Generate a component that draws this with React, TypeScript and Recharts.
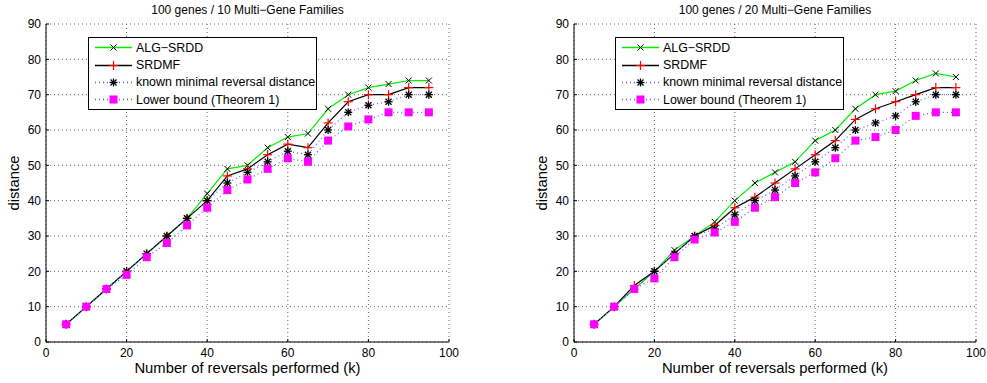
import React from "react";
import { LineChart, Line, XAxis, YAxis, CartesianGrid, Legend, Label } from "recharts";

// reversals performed (k)
const reversals = [5, 10, 15, 20, 25, 30, 35, 40, 45, 50, 55, 60, 65, 70, 75, 80, 85, 90, 95];

// 100 genes / 10 multi-gene families
const algSrdd10 = [5, 10, 15, 20, 25, 30, 35, 42, 49, 50, 55, 58, 59, 66, 70, 72, 73, 74, 74];
const srdmf10 = [5, 10, 15, 20, 25, 30, 35, 40, 47, 49, 53, 56, 55, 62, 68, 70, 70, 72, 72];
const known10 = [5, 10, 15, 20, 25, 30, 35, 40, 45, 48, 51, 54, 53, 60, 65, 67, 68, 70, 70];
const lower10 = [5, 10, 15, 19, 24, 28, 33, 38, 43, 46, 49, 52, 51, 57, 61, 63, 65, 65, 65];

// 100 genes / 20 multi-gene families
const algSrdd20 = [5, 10, 15, 20, 26, 30, 34, 40, 45, 48, 51, 57, 60, 66, 70, 71, 74, 76, 75];
const srdmf20 = [5, 10, 16, 20, 25, 30, 33, 38, 41, 45, 49, 53, 57, 63, 66, 68, 70, 72, 72];
const known20 = [5, 10, 15, 20, 25, 30, 32, 36, 40, 43, 47, 51, 55, 60, 62, 64, 68, 70, 70];
const lower20 = [5, 10, 15, 18, 24, 29, 31, 34, 38, 41, 45, 48, 52, 57, 58, 60, 64, 65, 65];

const xTicks = [0, 20, 40, 60, 80, 100];
const yTicks = [0, 10, 20, 30, 40, 50, 60, 70, 80, 90];

const FONT = '"Liberation Sans", Arial, Helvetica, sans-serif';

const XMark = ({ cx, cy }: any) => (
  <g stroke="#000" strokeWidth={1}>
    <line x1={cx - 3} y1={cy - 3} x2={cx + 3} y2={cy + 3} />
    <line x1={cx - 3} y1={cy + 3} x2={cx + 3} y2={cy - 3} />
  </g>
);

const PlusMark = ({ cx, cy }: any) => (
  <g stroke="#ff0000" strokeWidth={1.2}>
    <line x1={cx - 4.5} y1={cy} x2={cx + 4.5} y2={cy} />
    <line x1={cx} y1={cy - 4.5} x2={cx} y2={cy + 4.5} />
  </g>
);

const StarMark = ({ cx, cy }: any) => (
  <g stroke="#000" strokeWidth={1.3}>
    <line x1={cx - 4} y1={cy} x2={cx + 4} y2={cy} />
    <line x1={cx} y1={cy - 4} x2={cx} y2={cy + 4} />
    <line x1={cx - 3} y1={cy - 3} x2={cx + 3} y2={cy + 3} />
    <line x1={cx - 3} y1={cy + 3} x2={cx + 3} y2={cy - 3} />
  </g>
);

const SquareMark = ({ cx, cy }: any) => (
  <rect x={cx - 4} y={cy - 4} width={8} height={8} fill="#ff00ff" />
);

const series = [
  { key: "alg", name: "ALG\u2212SRDD", stroke: "#00ee00", dash: undefined, Mark: XMark },
  { key: "srdmf", name: "SRDMF", stroke: "#000000", dash: undefined, Mark: PlusMark },
  { key: "known", name: "known minimal reversal distance", stroke: "#5a5aff", dash: "1 3", Mark: StarMark },
  { key: "lower", name: "Lower bound (Theorem 1)", stroke: "#5a5aff", dash: "1 3", Mark: SquareMark },
];

const LegendBox = () => (
  <div
    style={{
      width: 229,
      height: 73,
      boxSizing: "border-box",
      border: "1px solid #000",
      background: "#fff",
      paddingTop: 1,
      fontFamily: FONT,
    }}
  >
    {series.map((s) => (
      <div key={s.key} style={{ display: "flex", alignItems: "center", height: 17.4 }}>
        <svg width={47} height={17} style={{ display: "block" }}>
          <line x1={6} x2={43} y1={8.5} y2={8.5} stroke={s.stroke} strokeWidth={1.3} strokeDasharray={s.dash} />
          <s.Mark cx={24.5} cy={8.5} />
        </svg>
        <span style={{ fontSize: 12.4, color: "#000", whiteSpace: "nowrap" }}>{s.name}</span>
      </div>
    ))}
  </div>
);

const XLabel = (props: any) => {
  const vb = props.viewBox || {};
  return (
    <text x={vb.x + vb.width / 2} y={vb.y + 31} textAnchor="middle" fontSize={14.8} fontFamily={FONT} fill="#000">
      Number of reversals performed (k)
    </text>
  );
};

const YLabel = (props: any) => {
  const vb = props.viewBox || {};
  const x = vb.x - 2;
  const y = vb.y + vb.height / 2;
  return (
    <text
      x={x}
      y={y}
      transform={`rotate(-90, ${x}, ${y})`}
      textAnchor="middle"
      dominantBaseline="central"
      fontSize={14.8}
      fontFamily={FONT}
      fill="#000"
    >
      distance
    </text>
  );
};

const Panel = ({ title, data, left, width, marginRight }: any) => (
  <div style={{ position: "absolute", left, top: 0, width, height: 383 }}>
    <div
      style={{
        position: "absolute",
        left: 46,
        width: width - 46 - marginRight,
        top: 4,
        lineHeight: "12px",
        fontSize: 12,
        textAlign: "center",
        fontFamily: FONT,
        color: "#000",
      }}
    >
      {title}
    </div>
    <LineChart
      width={width}
      height={383}
      data={data}
      margin={{ top: 24, right: marginRight, bottom: 11, left: 16 }}
      style={{ fontFamily: FONT }}
    >
      <CartesianGrid stroke="#666" strokeDasharray="1 3" />
      <XAxis
        dataKey="k"
        type="number"
        domain={[0, 100]}
        ticks={xTicks}
        height={30}
        axisLine={{ stroke: "#000" }}
        tickLine={{ stroke: "#000" }}
        tickSize={-3}
        tickMargin={9}
        tick={{ fill: "#000", fontSize: 12 }}
        interval={0}
      >
        <Label content={XLabel} />
      </XAxis>
      <YAxis
        type="number"
        domain={[0, 90]}
        ticks={yTicks}
        width={30}
        axisLine={{ stroke: "#000" }}
        tickLine={{ stroke: "#000" }}
        tickSize={-3}
        tickMargin={8}
        tick={{ fill: "#000", fontSize: 12 }}
        interval={0}
      >
        <Label content={YLabel} />
      </YAxis>
      <Legend
        layout="vertical"
        align="center"
        verticalAlign="middle"
        content={LegendBox}
        wrapperStyle={{ left: 88 - (left > 0 ? 1 : 0), top: 37, width: 229, height: 73 }}
      />
      {series.map((s) => (
        <Line
          key={s.key}
          dataKey={s.key}
          name={s.name}
          type="linear"
          stroke={s.stroke}
          strokeWidth={1.2}
          strokeDasharray={s.dash}
          isAnimationActive={false}
          activeDot={false}
          dot={(p: any) => <s.Mark key={`${s.key}-${p.index}`} cx={p.cx} cy={p.cy} />}
        />
      ))}
    </LineChart>
  </div>
);

const build = (alg: number[], srdmf: number[], known: number[], lower: number[]) =>
  reversals.map((k, i) => ({ k, alg: alg[i], srdmf: srdmf[i], known: known[i], lower: lower[i] }));

export default function App() {
  const data10 = build(algSrdd10, srdmf10, known10, lower10);
  const data20 = build(algSrdd20, srdmf20, known20, lower20);
  return (
    <div style={{ position: "absolute", left: 0, top: 0, width: 987, height: 383, background: "#fff", overflow: "hidden" }}>
      <Panel title={"100 genes / 10 Multi\u2212Gene Families"} data={data10} left={0} width={470} marginRight={21} />
      <Panel title={"100 genes / 20 Multi\u2212Gene Families"} data={data20} left={528} width={459} marginRight={11} />
    </div>
  );
}
